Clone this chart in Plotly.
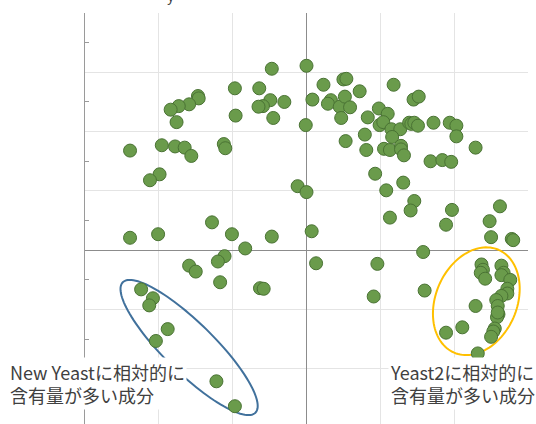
import numpy as np
import plotly.graph_objects as go

# Component scores (PC1 on x, PC2 on y)
pc1 = [
    -0.97, -1.47, -1.46, -1.59, -1.73, -1.84, -0.96, -1.76, -2.39, -1.96,
    -1.78, -1.65, -1.56, -1.12, -1.10, -1.99, -2.12, -1.28, -2.01, -2.39,
    -1.01, -0.83, -0.47, 0.00, -0.64, -0.49, -0.59, -0.65, -0.30, -0.45,
    -0.01, 0.08, 0.23, 0.50, 0.54, 0.33, 0.29, 0.45, 0.52, 0.59,
    0.72, 0.47, 0.83, 0.98, 1.10, 0.99, 1.04, 0.79, 0.53, 0.81,
    1.05, 0.93, -0.12, 0.00, 1.08, 1.13, -0.47, 0.07, 1.18, 1.45,
    1.52, 1.15, 1.27, 1.16, 1.39, 1.42, 1.46, 1.51, 1.72, 1.94,
    2.03, 2.03, 2.29, 1.13, 1.28, 1.28, 1.32, 1.68, 1.84, 1.96,
    1.31, 1.46, 1.41, 1.97, 2.62, 2.48, 1.89, 2.50, 2.78, 2.80,
    1.58, -1.11, -1.20, -1.59, -1.50, -1.17, -0.63, -0.58, -2.24, -2.08,
    -2.13, -1.88, -2.04, -1.22, -0.97, 0.13, 0.96, 0.91, 1.60, 2.37,
    2.39, 2.36, 2.42, 2.64, 2.67, 2.64, 2.76, 2.72, 2.72, 2.64,
    2.57, 2.59, 2.29, 2.60, 2.58, 2.59, 2.55, 2.53, 2.50, 2.11,
    1.89, 2.32,
]
pc2 = [
    2.73, 2.60, 2.56, 2.46, 2.43, 2.37, 2.27, 2.16, 1.68, 1.77,
    1.75, 1.73, 1.59, 1.79, 1.72, 1.28, 1.18, 0.47, 0.27, 0.21,
    0.27, 0.03, 3.06, 3.11, 2.73, 2.53, 2.43, 2.42, 2.50, 2.23,
    2.11, 2.54, 2.79, 2.88, 2.89, 2.53, 2.47, 2.42, 2.59, 2.41,
    2.68, 2.23, 2.24, 2.39, 2.30, 2.11, 2.16, 1.95, 1.84, 1.69,
    1.71, 1.29, 1.08, 0.98, 1.01, 0.55, 0.23, 0.32, 2.79, 2.54,
    2.59, 2.04, 2.04, 1.91, 2.15, 2.13, 2.15, 2.10, 2.15, 2.15,
    2.10, 1.92, 1.73, 1.69, 1.76, 1.70, 1.60, 1.50, 1.52, 1.49,
    1.14, 0.83, 0.67, 0.68, 0.74, 0.49, 0.43, 0.22, 0.19, 0.17,
    -0.03, -0.10, -0.19, -0.26, -0.36, -0.54, -0.64, -0.65, -0.66, -0.81,
    -0.93, -1.33, -1.53, -2.21, -2.63, -0.22, -0.23, -0.78, -0.68, -0.24,
    -0.33, -0.38, -0.48, -0.26, -0.38, -0.42, -0.50, -0.65, -0.73, -0.77,
    -0.84, -0.94, -0.94, -1.08, -1.13, -1.05, -1.32, -1.37, -1.46, -1.30,
    -1.39, -1.74,
]

# Highlight groups: centre (data units), semi-axes (px), major-axis angle (deg)
groups = [
    dict(cx=-1.59, cy=-1.64, a=93, b=25, ang=-44.5, color="#41719C"),
    dict(cx=2.30, cy=-0.86, a=56, b=40.6, ang=66.7, color="#FFC000"),
]
# Group captions, placed in paper coordinates
labels = [
    dict(text="New Yeastに相対的に<br>含有量が多い成分", x=-0.174, y=0.098),
    dict(text="Yeast2に相対的に<br>含有量が多い成分", x=0.684, y=0.098),
]

W, H = 536, 424
M = dict(l=85, r=8, t=13, b=0, pad=0)
x_range = [-3, 3]
y_range = [-2.93, 4.0]
sx = (W - M["l"] - M["r"]) / (x_range[1] - x_range[0])
sy = (H - M["t"] - M["b"]) / (y_range[1] - y_range[0])


def ellipse_path(cx, cy, a, b, ang):
    t = np.linspace(0, 2 * np.pi, 121)
    ux, uy = np.cos(np.radians(ang)), np.sin(np.radians(ang))
    px = a * np.cos(t) * ux - b * np.sin(t) * uy
    py = a * np.cos(t) * uy + b * np.sin(t) * ux
    xs = cx + px / sx
    ys = cy + py / sy
    pts = [f"{x:.4f},{y:.4f}" for x, y in zip(xs, ys)]
    return "M" + " L".join(pts) + " Z"


fig = go.Figure()
fig.add_trace(go.Scatter(
    x=pc1, y=pc2, mode="markers",
    marker=dict(size=13, color="#6A9B4B", line=dict(color="#4A7334", width=1)),
    hoverinfo="skip",
))

for g in groups:
    fig.add_shape(
        type="path", xref="x", yref="y",
        path=ellipse_path(g["cx"], g["cy"], g["a"], g["b"], g["ang"]),
        line=dict(color=g["color"], width=2), layer="between",
    )

for lb in labels:
    fig.add_annotation(
        text=lb["text"], x=lb["x"], y=lb["y"], xref="paper", yref="paper",
        xanchor="left", yanchor="middle", align="left", showarrow=False,
        bgcolor="white", borderpad=1,
        font=dict(family="Noto Sans CJK JP", size=18, color="#404040"),
    )

# descender of the heading above the plot
fig.add_annotation(
    text="y", xref="paper", yref="paper", x=(171 - 85) / (W - 85 - 8), y=1,
    xanchor="center", yanchor="bottom", yshift=6, showarrow=False,
    font=dict(family="Noto Sans CJK JP", size=14, color="#404040"),
)

fig.update_xaxes(
    range=x_range, dtick=1, tick0=0, showticklabels=False, ticks="",
    showgrid=True, gridcolor="#E4E4E4", gridwidth=1,
    zeroline=True, zerolinecolor="#8C8C8C", zerolinewidth=1.3,
    showline=False,
)
fig.update_yaxes(
    range=y_range, dtick=1, tick0=0, showticklabels=False, ticks="",
    minor=dict(ticks="inside", dtick=0.5, ticklen=4, tickcolor="#9A9A9A", showgrid=False),
    showgrid=True, gridcolor="#E4E4E4", gridwidth=1,
    zeroline=True, zerolinecolor="#8C8C8C", zerolinewidth=1.3,
    showline=True, linecolor="#9A9A9A", linewidth=1.3,
)
fig.update_layout(
    width=W, height=H, margin=M, showlegend=False,
    plot_bgcolor="white", paper_bgcolor="white",
)
fig.write_html("out.html")
